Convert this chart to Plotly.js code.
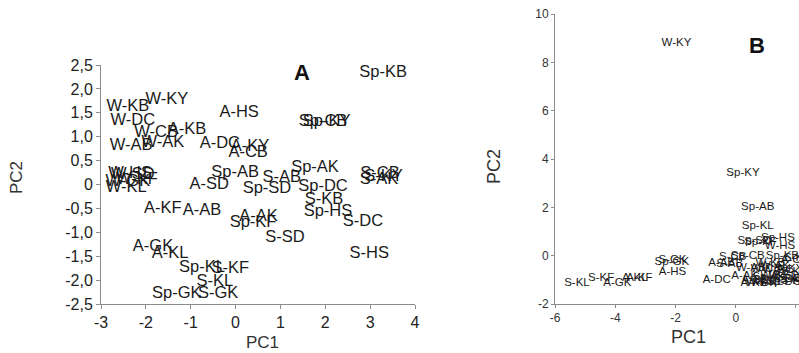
<!DOCTYPE html>
<html>
<head>
<meta charset="utf-8">
<script src="https://cdn.plot.ly/plotly-3.0.1.min.js"></script>
<style>html,body{margin:0;padding:0;background:#fff;}#chart{width:799px;height:353px;}</style>
</head>
<body>
<div id="chart"></div>
<script>
// Panel A data
const labelsA = ["Sp-KB","W-KB","W-KY","A-HS","W-DC","W-CB","A-KB","W-AK","W-AB","A-DC","A-KY","A-CB",
  "Sp-CB","Sp-KY","Sp-AB","S-AB","Sp-AK","Sp-DC","Sp-SD","A-SD",
  "W-HS","W-SD","W-GK","W-KF","W-KL","A-KF","A-AB","A-AK","Sp-KF","S-SD","S-KB","Sp-HS","S-DC","S-HS",
  "S-CB","S-AK","S-KY","A-GK","A-KL","Sp-KL","S-KF","S-KL","Sp-GK","S-GK"];
const pc1A = [3.29,-2.40,-1.53,0.08,-2.29,-1.77,-1.08,-1.62,-2.33,-0.35,0.32,0.28,
  1.95,2.03,-0.01,1.03,1.77,1.95,0.70,-0.59,
  -2.35,-2.29,-2.40,-2.20,-2.44,-1.62,-0.75,0.51,0.39,1.10,1.97,2.06,2.84,2.98,
  3.22,3.20,3.30,-1.84,-1.46,-0.75,-0.12,-0.46,-1.31,-0.39];
const pc2A = [2.33,1.62,1.77,1.50,1.33,1.08,1.14,0.87,0.81,0.85,0.78,0.66,
  1.31,1.31,0.24,0.14,0.34,-0.05,-0.09,0.00,
  0.22,0.20,0.05,0.09,-0.07,-0.51,-0.55,-0.68,-0.81,-1.12,-0.32,-0.58,-0.78,-1.45,
  0.22,0.10,0.15,-1.31,-1.46,-1.75,-1.77,-2.04,-2.29,-2.29];

// Panel B data
const labelsB = ["W-KY","Sp-KY","Sp-AB","Sp-KL","Sp-HS","W-HS","S-KL","S-KF","A-GK","A-KL","A-KF",
  "S-GK","Sp-GK","A-HS","A-AB","A-DC",
  "Sp-SD","Sp-KF","S-CB","Sp-CB","Sp-KB","S-KB","W-AB","W-KB","W-AK","S-AB","A-SD","S-SD","A-KB",
  "W-GK","W-KL","W-KF","W-SD","S-DC","S-AK","S-KY","W-CB","W-DC","A-KY","A-CB","A-AK","Sp-AK","Sp-DC","S-HS"];
const pc1B = [-1.97,0.24,0.73,0.73,1.40,1.47,-5.27,-4.47,-3.93,-3.35,-3.20,
  -2.10,-2.12,-2.10,-0.47,-0.63,
  0.62,0.82,-0.10,0.40,1.55,2.05,0.50,1.15,1.30,-0.20,0.65,0.90,0.60,
  0.85,1.10,1.30,1.60,1.70,1.90,1.95,1.00,1.40,1.80,1.95,0.30,1.10,1.60,1.95];
const pc2B = [8.80,3.40,2.00,1.22,0.74,0.41,-1.12,-0.91,-1.12,-0.91,-0.91,
  -0.20,-0.27,-0.70,-0.30,-1.00,
  0.60,0.55,-0.05,0.00,0.00,-0.10,-0.50,-0.30,-0.45,-0.35,-1.00,-1.05,-1.15,
  -1.15,-1.10,-0.80,-0.85,-0.95,-0.95,-0.70,-0.55,-0.60,-0.55,-0.20,-0.85,-0.90,-1.10,-1.05];

// Tick labels
const xTicksA = [-3,-2,-1,0,1,2,3,4];
const yTicksA = [-2.5,-2,-1.5,-1,-0.5,0,0.5,1,1.5,2,2.5];
const yTextA = ["-2,5","-2,0","-1,5","-1,0","-0,5","0","0,5","1,0","1,5","2,0","2,5"];
const xTicksB = [-6,-4,-2,0,2];
const yTicksB = [-2,0,2,4,6,8,10];

const W = 799, H = 353;
const fx = p => p / W;
const fy = p => (H - p) / H;
const FONT = 'Liberation Sans, Arial, sans-serif';

const traces = [
  {x: pc1A, y: pc2A, text: labelsA, mode: 'text', type: 'scatter', xaxis: 'x', yaxis: 'y',
   textposition: 'middle center', textfont: {family: FONT, size: 16.5, color: '#1a1a1a'},
   hoverinfo: 'text', showlegend: false, cliponaxis: false},
  {x: pc1B, y: pc2B, text: labelsB, mode: 'text', type: 'scatter', xaxis: 'x2', yaxis: 'y2',
   textposition: 'middle center', textfont: {family: FONT, size: 11.5, color: '#1a1a1a'},
   hoverinfo: 'text', showlegend: false, cliponaxis: true}
];

const axBase = {showgrid: false, zeroline: false, showline: true, linecolor: '#8a8a8a', linewidth: 1,
  ticks: 'outside', ticklen: 4, tickcolor: '#8a8a8a', mirror: false};

const layout = {
  width: W, height: H,
  margin: {l: 0, r: 0, t: 0, b: 0},
  paper_bgcolor: '#fff', plot_bgcolor: '#fff',
  showlegend: false,
  xaxis: Object.assign({}, axBase, {domain: [fx(101), fx(415)], range: [-3, 4], anchor: 'y',
    tickmode: 'array', tickvals: xTicksA, ticktext: xTicksA.map(String),
    tickfont: {family: FONT, size: 16, color: '#222'}}),
  yaxis: Object.assign({}, axBase, {domain: [fy(304), fy(65)], range: [-2.5, 2.5], anchor: 'x',
    tickmode: 'array', tickvals: yTicksA, ticktext: yTextA,
    tickfont: {family: FONT, size: 16, color: '#222'}}),
  xaxis2: Object.assign({}, axBase, {domain: [fx(555), 1], range: [-6, 2.1], anchor: 'y2', ticklen: 3,
    tickmode: 'array', tickvals: xTicksB, ticktext: xTicksB.map(String),
    tickfont: {family: FONT, size: 12, color: '#333'}}),
  yaxis2: Object.assign({}, axBase, {domain: [fy(304), fy(14)], range: [-2, 10], anchor: 'x2', ticklen: 3,
    tickmode: 'array', tickvals: yTicksB, ticktext: yTicksB.map(String),
    tickfont: {family: FONT, size: 12, color: '#333'}}),
  annotations: [
    {text: 'A', xref: 'paper', yref: 'paper', x: fx(302), y: fy(72), showarrow: false,
     font: {family: FONT, size: 22, color: '#111', weight: 'bold'}, xanchor: 'center', yanchor: 'middle'},
    {text: 'B', xref: 'paper', yref: 'paper', x: fx(757), y: fy(45), showarrow: false,
     font: {family: FONT, size: 22, color: '#111', weight: 'bold'}, xanchor: 'center', yanchor: 'middle'},
    {text: 'PC1', xref: 'paper', yref: 'paper', x: fx(262), y: fy(342), showarrow: false,
     font: {family: FONT, size: 17, color: '#333'}, xanchor: 'center', yanchor: 'middle'},
    {text: 'PC2', xref: 'paper', yref: 'paper', x: fx(16), y: fy(178), showarrow: false, textangle: -90,
     font: {family: FONT, size: 17, color: '#333'}, xanchor: 'center', yanchor: 'middle'},
    {text: 'PC1', xref: 'paper', yref: 'paper', x: fx(688), y: fy(337), showarrow: false,
     font: {family: FONT, size: 18, color: '#333'}, xanchor: 'center', yanchor: 'middle'},
    {text: 'PC2', xref: 'paper', yref: 'paper', x: fx(494), y: fy(167), showarrow: false, textangle: -90,
     font: {family: FONT, size: 18, color: '#333'}, xanchor: 'center', yanchor: 'middle'}
  ]
};

Plotly.newPlot('chart', traces, layout, {staticPlot: true, displayModeBar: false});
</script>
</body>
</html>
